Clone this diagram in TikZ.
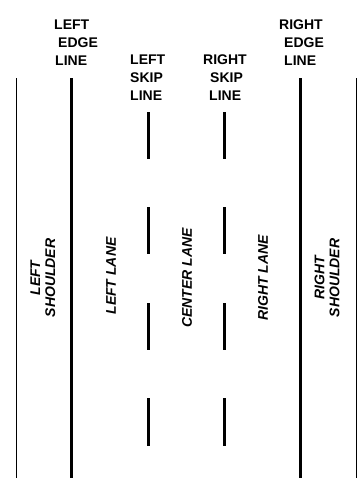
\documentclass[tikz,border=0pt]{standalone}
\usepackage{fontspec}
\setmainfont{Liberation Sans}
\begin{document}
\begin{tikzpicture}[x=1pt,y=-1pt,
  toplabel/.style={anchor=north west,inner sep=0pt,align=left,font=\fontsize{14}{17.6}\selectfont\bfseries},
  lanelabel/.style={rotate=90,inner sep=0pt,align=center,font=\fontsize{14}{15}\selectfont\bfseries\itshape},
  thinline/.style={line width=0.9pt},
  edgeline/.style={line width=3pt},
  skipdash/.style={line width=3pt}]
\useasboundingbox (0,0) rectangle (360,487);
% outer lines
\coordinate (olt) at (16,78); \coordinate (olb) at (16,478);
\coordinate (ort) at (356,78); \coordinate (orb) at (356,478);
\draw[thinline] (olt) -- (olb);
\draw[thinline] (ort) -- (orb);
% edge lines
\coordinate (elt) at (71,78); \coordinate (elb) at (71,478);
\coordinate (ert) at (300,78); \coordinate (erb) at (300,478);
\draw[edgeline] (elt) -- (elb);
\draw[edgeline] (ert) -- (erb);
% skip lines
\foreach \ya/\yb [count=\i] in {112/159,207/254,303/350,398/446}{
  \coordinate (ls\i a) at (148,\ya); \coordinate (ls\i b) at (148,\yb);
  \coordinate (rs\i a) at (224,\ya); \coordinate (rs\i b) at (224,\yb);
  \draw[skipdash] (ls\i a) -- (ls\i b);
  \draw[skipdash] (rs\i a) -- (rs\i b);
}
% top labels
\node[toplabel] (lel) at (54,20) {LEFT\\\hspace*{4pt}EDGE\\\hspace*{1pt}LINE};
\node[toplabel] (rel) at (279,20) {RIGHT\\\hspace*{5pt}EDGE\\\hspace*{5pt}LINE};
\node[toplabel] (lsl) at (130,55) {LEFT\\SKIP\\LINE};
\node[toplabel] (rsl) at (203,55) {RIGHT\\\hspace*{7pt}SKIP\\\hspace*{6pt}LINE};
% lane labels
\node[lanelabel] (lsh) at (43,278) {LEFT\\SHOULDER};
\node[lanelabel] (ll) at (111,276) {LEFT LANE};
\node[lanelabel] (cl) at (187,278) {CENTER LANE};
\node[lanelabel] (rl) at (263,278) {RIGHT LANE};
\node[lanelabel] (rsh) at (327,278) {RIGHT\\SHOULDER};
\end{tikzpicture}
\end{document}
